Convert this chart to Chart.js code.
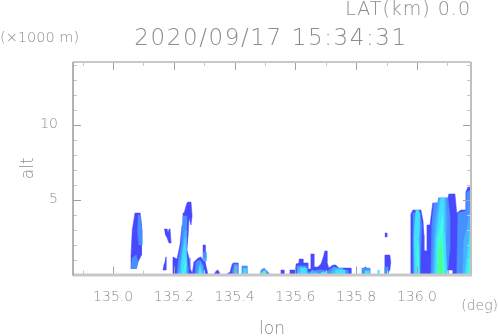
<!DOCTYPE html>
<html><head><meta charset="utf-8">
<style>html,body{margin:0;padding:0;background:#fff}canvas{display:block}</style>
<script src="https://cdn.jsdelivr.net/npm/chart.js@4"></script>
</head><body><canvas id="c" width="498" height="336"></canvas>
<script>
const xTickValues=[135.0,135.2,135.4,135.6,135.8,136.0];
const xMinorValues=[134.9,135.1,135.3,135.5,135.7,135.9,136.1];
const yTickValues=[5,10];
const yMinorValues=[1,2,3,4,6,7,8,9,11,12,13,14];
const titleText="2020/09/17 15:34:31";
const latText="LAT(km) 0.0";
const altUnitText="(×1000 m)";
const lonUnitText="(deg)";
// echo bands as [lon, alt km] outlines, weakest first
const dark=[
 [[135.059,.37],[135.059,1.3],[135.063,2.97],[135.072,4.1],[135.089,4.1],[135.094,3.3],[135.095,2.3],[135.092,1.3],[135.082,.83],[135.076,.37]],
 [[135.168,3.03],[135.178,3.03],[135.181,2.77],[135.184,3.03],[135.1875,3.03],[135.191,2.1],[135.184,2.1],[135.178,2.43],[135.171,2.7]],
 [[135.174,1.17],[135.174,.3],[135.164,.3],[135.168,.7]],
 [[135.197,0],[135.197,1.17],[135.2105,1.03],[135.22,1.97],[135.227,3.3],[135.230,4.1],[135.2335,4.1],[135.243,4.77],[135.247,4.83],[135.2565,4.83],[135.26,3.9],[135.2565,3.3],[135.25,3.77],[135.247,2.63],[135.243,1.63],[135.25,1.1],[135.253,.43],[135.26,.1],[135.263,0]],
 [[135.26,0],[135.266,.83],[135.28,1.1],[135.289,1.17],[135.296,.97],[135.296,1.97],[135.303,1.97],[135.303,1.3],[135.306,1.1],[135.303,.83],[135.309,.3],[135.312,0]],
 [[135.332,0],[135.339,.23],[135.345,.3],[135.349,.17],[135.352,0]],
 [[135.372,0],[135.385,.17],[135.391,.63],[135.395,.77],[135.411,.77],[135.411,0]],
 [[135.5525,0],[135.5525,.3],[135.5625,.3],[135.5625,0]],
 [[135.582,0],[135.582,.3],[135.602,.3],[135.602,.7],[135.612,.77],[135.612,1.03],[135.625,1.03],[135.625,.77],[135.641,.77],[135.641,.37],[135.651,.37],[135.651,1.37],[135.661,1.37],[135.661,.5],[135.674,.5],[135.684,.7],[135.691,1.1],[135.697,1.57],[135.704,1.57],[135.704,.83],[135.71,.43],[135.7235,.63],[135.733,.63],[135.743,.43],[135.783,.43],[135.783,0]],
 [[135.8255,0],[135.8255,.3],[135.829,.5],[135.832,.5],[135.832,0]],
 [[135.8945,0],[135.8945,1.3],[135.911,1.3],[135.914,.83],[135.911,.3],[135.901,0]],
 [[135.8945,2.77],[135.901,2.77],[135.901,2.5],[135.8945,2.5]],
 [[135.98,0],[135.98,4.03],[135.987,4.3],[136.0,4.3],[136.013,4.3],[136.02,3.6],[136.023,2.63],[136.023,1.63],[136.029,1.57],[136.033,1.57],[136.033,3.3],[136.043,3.3],[136.052,4.77],[136.069,4.77],[136.072,5.1],[136.102,5.1],[136.105,5.37],[136.125,5.37],[136.128,4.77],[136.131,4.1],[136.145,4.3],[136.161,4.3],[136.161,5.5],[136.168,5.83],[136.178,5.83],[136.178,0],[136.118,0],[136.118,.3],[136.102,.3],[136.102,0]]
];
const mid=[
 [[135.082,4.0],[135.089,3.9],[135.095,2.97],[135.095,1.97],[135.085,1.97],[135.08,2.97]],
 [[135.059,.37],[135.063,1.1],[135.076,1.3],[135.082,.83],[135.076,.37]],
 [[135.2105,0],[135.214,.83],[135.224,1.97],[135.230,3.9],[135.243,3.9],[135.243,2.63],[135.24,1.63],[135.247,.43],[135.247,0]],
 [[135.27,0],[135.273,.83],[135.286,.97],[135.296,.63],[135.303,0]],
 [[135.296,1.5],[135.306,1.5],[135.306,1.1],[135.296,1.1]],
 [[135.391,0],[135.398,.7],[135.408,.7],[135.408,0]],
 [[135.424,0],[135.424,.57],[135.441,.57],[135.441,0]],
 [[135.4835,0],[135.487,.3],[135.497,.43],[135.51,.17],[135.516,0]],
 [[135.602,0],[135.605,.57],[135.635,.57],[135.638,.17],[135.658,.17],[135.671,.3],[135.687,.3],[135.707,.23],[135.7235,.5],[135.733,.5],[135.747,.3],[135.773,.3],[135.773,0]],
 [[135.987,0],[135.987,4.1],[136.01,4.1],[136.016,3.3],[136.013,1.63],[136.01,0]],
 [[136.046,0],[136.049,3.3],[136.056,4.77],[136.069,4.77],[136.072,5.1],[136.102,5.1],[136.108,3.97],[136.108,1.63],[136.102,.3],[136.085,0]],
 [[136.131,0],[136.135,4.1],[136.161,4.23],[136.164,5.5],[136.178,5.63],[136.178,0]],
 [[135.819,0],[135.819,.43],[135.845,.43],[135.845,0]],
 [[135.8945,0],[135.8945,.5],[135.905,.5],[135.905,0]]
];
const light=[
 [[135.214,0],[135.22,.5],[135.237,3.0],[135.24,2.9],[135.24,1.3],[135.243,0]],
 [[135.276,0],[135.283,.57],[135.289,.83],[135.296,.3],[135.299,0]],
 [[135.296,1.1],[135.306,1.1],[135.306,.9],[135.296,.9]],
 [[135.398,0],[135.4,.6],[135.408,.6],[135.408,0]],
 [[135.605,0],[135.612,.5],[135.632,.5],[135.635,0]],
 [[135.645,0],[135.655,.3],[135.67,.15],[135.68,0]],
 [[135.715,0],[135.725,.43],[135.755,.43],[135.765,0]],
 [[135.993,0],[135.993,3.3],[136.0,4.2],[136.01,3.3],[136.006,0]],
 [[136.052,0],[136.059,3.3],[136.072,5.0],[136.095,5.1],[136.098,3.3],[136.092,1.63],[136.098,.3],[136.098,0]],
 [[136.151,0],[136.155,2.3],[136.168,3.3],[136.178,5.0],[136.178,0]]
];
const cyan=[
 [[135.224,0],[135.224,.6],[135.237,2.43],[135.24,1.3],[135.24,0]],
 [[135.28,0],[135.286,.57],[135.293,0]],
 [[135.401,0],[135.404,.5],[135.406,0]],
 [[135.427,0],[135.43,.4],[135.4375,.4],[135.4375,0]],
 [[135.49,0],[135.497,.3],[135.505,0]],
 [[135.615,0],[135.618,.43],[135.635,.43],[135.638,0]],
 [[135.681,0],[135.687,.17],[135.7,.17],[135.704,0]],
 [[135.73,0],[135.733,.3],[135.763,.3],[135.763,0]],
 [[135.829,0],[135.829,.25],[135.842,.25],[135.842,0]],
 [[135.8715,0],[135.8715,.3],[135.875,.3],[135.875,0]],
 [[135.993,0],[135.99,2.3],[135.9965,4.3],[136.006,4.3],[136.01,4.0],[136.006,2.3],[136.01,0]],
 [[136.059,0],[136.062,2.3],[136.079,5.1],[136.089,5.1],[136.089,3.3],[136.095,1.97],[136.098,0]],
 [[136.158,0],[136.168,1.7],[136.178,3.3],[136.178,0]]
];
const aqua=[
 [[135.2335,.4],[135.23,.1],[135.2335,0],[135.24,.6],[135.237,1.1]],
 [[135.283,0],[135.286,.4],[135.29,0]],
 [[135.4,.3],[135.404,.2],[135.406,.1],[135.401,.05]],
 [[135.4835,0],[135.49,.17],[135.497,.2],[135.503,0]],
 [[136.0,0],[136.0,1.63],[136.003,2.3],[136.006,0]],
 [[136.066,0],[136.069,2.3],[136.085,4.0],[136.085,2.3],[136.092,0]],
 [[136.165,0],[136.172,.9],[136.178,1.7],[136.178,0]]
];
const green=[
 [[136.069,.0],[136.072,1.63],[136.079,2.3],[136.082,1.63],[136.085,0]],
 [[135.49,0],[135.493,.13],[135.497,0]]
];
const bandColors=["#4848ff","#4890ff","#48b4ff","#40e0ff","#40ffd8","#50ff90"];
const bands=[dark,mid,light,cyan,aqua,green];
const datasets=[];
bands.forEach((polys,i)=>polys.forEach(p=>datasets.unshift({
  data:p.map(q=>({x:q[0],y:q[1]})),
  showLine:true,fill:'shape',backgroundColor:bandColors[i],borderColor:bandColors[i],
  borderWidth:0.5,pointRadius:0,pointHoverRadius:0,tension:0
})));
const textColor="#8c8c8c";
const fam="'DejaVu Sans'";
const framePlugin={id:'frame',afterDraw(chart){
  const {ctx,chartArea:a,scales:{x,y}}=chart;
  ctx.save();
  const tick=(x0,y0,x1,y1,col,w)=>{ctx.strokeStyle=col;ctx.lineWidth=w||1;ctx.beginPath();ctx.moveTo(x0,y0);ctx.lineTo(x1,y1);ctx.stroke();};
  const c1="#a0a0a0",c2="#c8c8c8";
  xTickValues.forEach(v=>{const p=Math.round(x.getPixelForValue(v))+.5;tick(p,a.bottom,p,a.bottom-8,c1);tick(p,a.top,p,a.top+8,c1);});
  xMinorValues.forEach(v=>{const p=Math.round(x.getPixelForValue(v))+.5;tick(p,a.bottom,p,a.bottom-4,c2);tick(p,a.top,p,a.top+4,c2);});
  yTickValues.forEach(v=>{const p=Math.round(y.getPixelForValue(v))+.5;tick(a.left,p,a.left+8,p,c1);tick(a.right,p,a.right-8,p,c1);});
  yMinorValues.forEach(v=>{const p=Math.round(y.getPixelForValue(v))+.5;tick(a.left,p,a.left+4,p,c2);tick(a.right,p,a.right-4,p,c2);});
  tick(a.left,a.top,a.right,a.top,"#c8c8c8",2);
  tick(a.right,a.top,a.right,a.bottom,"#c0c0c0",2);
  tick(a.left,a.bottom+.5,a.right+1,a.bottom+.5,"#c8c8c8",3);
  tick(a.left,a.top,a.left,a.bottom+1,"#989898",1.5);
  ctx.fillStyle=textColor;ctx.textBaseline='middle';
  ctx.letterSpacing="1.6px";
  ctx.textAlign='center';ctx.font="200 23px "+fam;ctx.fillText(titleText,271,39);
  ctx.letterSpacing="1px";
  ctx.textAlign='right';ctx.font="200 19px "+fam;ctx.fillText(latText,471,10);
  ctx.letterSpacing="0px";
  ctx.textAlign='left';ctx.font="200 14.5px "+fam;ctx.fillText(altUnitText,0,38);
  ctx.textAlign='right';ctx.font="200 14px "+fam;ctx.fillText(lonUnitText,498,306);
  ctx.restore();
}};
new Chart(document.getElementById('c'),{
 type:'scatter',
 data:{datasets},
 plugins:[framePlugin],
 options:{
  responsive:false,animation:false,events:[],
  layout:{padding:{left:0,right:27,top:62,bottom:0},autoPadding:false},
  plugins:{legend:{display:false},tooltip:{enabled:false},title:{display:false}},
  scales:{
   x:{type:'linear',min:134.868,max:136.178,
     afterBuildTicks(s){s.ticks=xTickValues.map(value=>({value}));},
     afterFit(s){s.height=61.5;},
     grid:{display:false},border:{display:false},
     ticks:{autoSkip:false,maxRotation:0,padding:6,color:textColor,font:{family:"DejaVu Sans",size:14,weight:200},callback:v=>v.toFixed(1)},
     title:{display:true,text:'lon',color:textColor,font:{family:"DejaVu Sans",size:17,weight:200,lineHeight:1},padding:{top:-2,bottom:-2}}
   },
   y:{type:'linear',min:0,max:14.17,
     afterBuildTicks(s){s.ticks=yTickValues.map(value=>({value}));},
     afterFit(s){s.width=73;},
     grid:{display:false},border:{display:false},
     ticks:{padding:7,color:textColor,font:{family:"DejaVu Sans",size:14,weight:200}},
     title:{display:true,text:'alt',color:textColor,font:{family:"DejaVu Sans",size:17,weight:200,lineHeight:1},padding:{top:20,bottom:20}}
   }
  }
 }
});
</script></body></html>
